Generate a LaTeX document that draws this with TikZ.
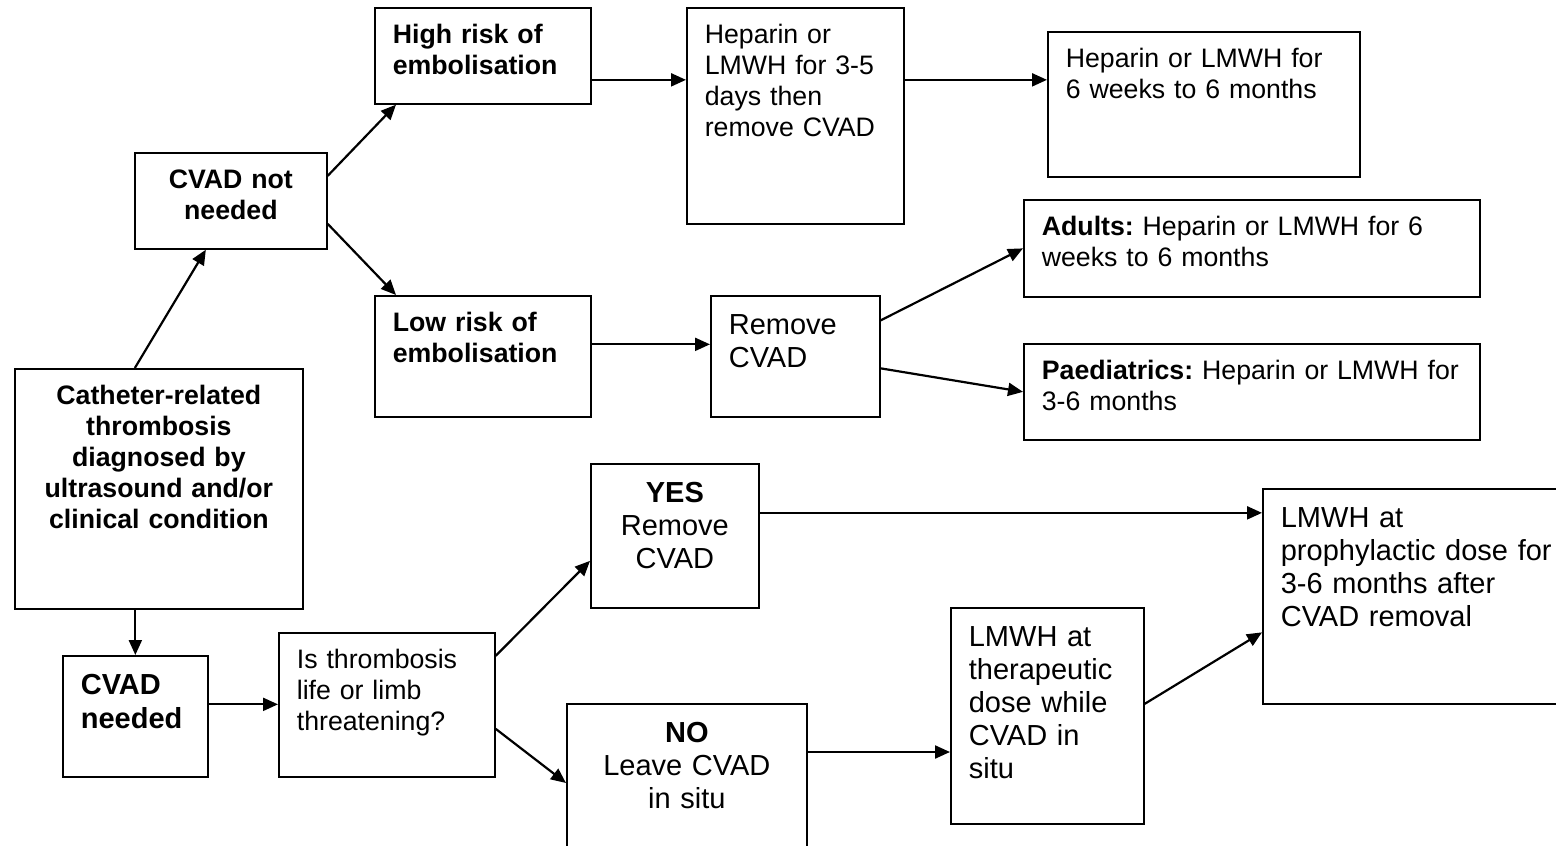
\documentclass[tikz,border=0pt]{standalone}
\usepackage{fontspec}
\setmainfont{Liberation Sans}
\frenchspacing
\usetikzlibrary{arrows.meta}

\tikzset{
  box/.style={draw, line width=1.7pt, anchor=north west, inner xsep=18pt, text height=19pt, align=left},
  txt/.style={box, font=\fontsize{26.7}{31}\selectfont, inner ysep=17pt},
  txtb/.style={txt, font=\fontsize{26.7}{31}\selectfont\bfseries},
  big/.style={box, font=\fontsize{29}{33}\selectfont, inner ysep=20pt},
  bigb/.style={big, font=\fontsize{29}{34}\selectfont\bfseries},
}

\begin{document}
\begin{tikzpicture}[x=1pt, y=-1pt]

        \useasboundingbox (0,0) rectangle (1556,846);
        \clip (0,0) rectangle (1556,846);

        % boxes, placed by their top left corner
        \begin{scope}[every node/.style={txt}]
          \node[txtb, text width=252pt, text depth=187pt, align=center] (cat) at (14,368) {Catheter-related\\thrombosis\\diagnosed by\\ultrasound and/or\\clinical condition};
          \node[txtb, text width=156pt, text depth=43pt, align=center] (notneed) at (134,152) {CVAD not\\needed};
          \node[txtb, text width=180pt, text depth=43pt] (high) at (374,7) {High risk of\\embolisation};
          \node[txtb, text width=180pt, text depth=68pt] (low) at (374,295) {Low risk of\\embolisation};
          \node[text width=181pt, text depth=163pt] (hep) at (686,7) {Heparin or\\LMWH for 3-5\\days then\\remove CVAD};
          \node[text width=276pt, text depth=92pt] (wk) at (1047,31) {Heparin or LMWH for\\6 weeks to 6 months};
          \node[text width=420pt, text depth=44pt] (adult) at (1023,199) {\textbf{Adults:} Heparin or LMWH for 6\\weeks to 6 months};
          \node[text width=420pt, text depth=43pt] (paed) at (1023,343) {\textbf{Paediatrics:} Heparin or LMWH for\\3-6 months};
          \node[text width=180pt, text depth=91pt] (thromb) at (278,632) {Is thrombosis\\life or limb\\threatening?};
        \end{scope}

        \begin{scope}[every node/.style={big}]
          \node[text width=133pt, text depth=62pt] (rem) at (710,295) {Remove\\CVAD};
          \node[bigb, text width=109pt, text depth=62pt] (needed) at (62,655) {CVAD\\needed};
          \node[text width=132pt, text depth=85pt, align=center] (yes) at (590,463) {\textbf{YES}\\Remove\\CVAD};
          \node[text width=204pt, text depth=101pt, align=center] (no) at (566,703) {\textbf{NO}\\Leave CVAD\\in situ};
          \node[text width=157pt, text depth=157pt] (ther) at (950,607) {LMWH at\\therapeutic\\dose while\\CVAD in\\situ};
          \node[text width=304pt, text depth=156pt] (proph) at (1262,488) {LMWH at\\prophylactic dose for\\3-6 months after\\CVAD removal};
        \end{scope}

        % arrows
        \begin{scope}[every edge/.style={draw, line width=2.2pt, -{Triangle[length=15pt,width=13pt]}}]
          \path ([xshift=-24pt]cat.north) edge ([xshift=-25pt]notneed.south);
          \path ([yshift=25pt]notneed.east) edge ([xshift=22pt]high.south west);
          \path ([yshift=-23pt]notneed.east) edge ([xshift=22pt]low.north west);
          \path ([yshift=-24pt]high.east) edge ([yshift=-24pt]high.east -| hep.west);
          \path ([yshift=36pt]hep.east) edge ([yshift=36pt]hep.east -| wk.west);
          \path ([yshift=12pt]low.east) edge ([yshift=12pt]low.east -| rem.west);
          \path ([yshift=36pt]rem.east) edge (adult.west);
          \path ([yshift=-12pt]rem.east) edge (paed.west);
          \path (cat.south -| needed.north) edge (needed.north);
          \path ([yshift=12pt]needed.east) edge ([yshift=12pt]needed.east -| thromb.west);
          \path ([yshift=49pt]thromb.east) edge ([yshift=-25pt]yes.west);
          \path ([yshift=-24pt]thromb.east) edge ([yshift=-80pt]no.north west);
          \path ([yshift=23pt]yes.east) edge ([yshift=23pt]yes.east -| proph.west);
          \path ([yshift=-49pt]no.north east) edge ([yshift=-49pt]no.north east -| ther.west);
          \path ([yshift=12pt]ther.east) edge ([yshift=-36pt]proph.west);
        \end{scope}

      \end{tikzpicture}
\end{document}
